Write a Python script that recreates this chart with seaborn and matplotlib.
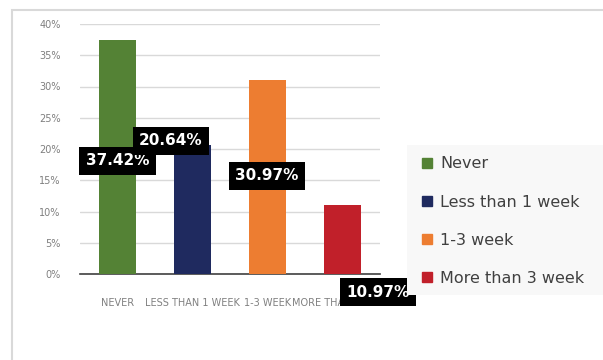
import matplotlib
matplotlib.use("Agg")
import matplotlib.pyplot as plt
import matplotlib.patches as mpatches
import seaborn as sns
import pandas as pd

# data
categories = ["Never", "Less than 1 week", "1-3 week", "More than 3 week"]
tick_labels = ["NEVER", "LESS THAN 1 WEEK", "1-3 WEEK", "MORE THAN 3 WEEK"]
percent = [37.42, 20.64, 30.97, 10.97]
colors = ["#548235", "#1f2a5f", "#ed7d31", "#c1202a"]
# where the (moved) data labels sit, in data units
label_x = [0.0, 0.71, 1.99, 3.47]
label_y = [18.1, 21.3, 15.7, -2.9]

df = pd.DataFrame({"cat": categories, "pct": percent})

sns.set_style("white")
fig = plt.figure(figsize=(6.03, 3.6), dpi=100)
ax = fig.add_axes([80 / 603, 1 - 274 / 360, 300 / 603, 250 / 360])

sns.barplot(data=df, x="cat", y="pct", hue="cat", palette=colors, saturation=1,
            width=0.5, legend=False, ax=ax, zorder=3, linewidth=0)

ax.set_ylim(0, 40)
ax.set_yticks(range(0, 41, 5))
ax.set_yticklabels([f"{t}%" for t in range(0, 41, 5)], fontsize=7, color="#7f7f7f")
ax.set_xlim(-0.5, 3.5)
ax.set_xticks([-0.5, 0.5, 1.5, 2.5, 3.5], minor=False)
ax.set_xticklabels([])
ax.set_xticks([0, 1, 2, 3], minor=True)
ax.set_xticklabels(tick_labels, minor=True, fontsize=7, color="#808080")
ax.tick_params(axis="x", which="major", length=4, color="#404040", width=1, direction="out")
ax.tick_params(axis="x", which="minor", length=0, pad=17)
ax.tick_params(axis="y", length=0, pad=14)
ax.set_xlabel("")
ax.set_ylabel("")
ax.grid(axis="y", color="#d9d9d9", linewidth=1, zorder=0)
for s in ["top", "right", "left"]:
    ax.spines[s].set_visible(False)
ax.spines["bottom"].set_color("#404040")
ax.spines["bottom"].set_linewidth(1.2)

# data labels: black boxes, white bold text
for x, y, v in zip(label_x, label_y, percent):
    ax.text(x, y, f"{v:.2f}%", ha="center", va="center", fontsize=11,
            fontweight="bold", color="white", zorder=5, clip_on=False,
            bbox=dict(boxstyle="square,pad=0.42", facecolor="black", edgecolor="none"))

# legend panel
fig.patches.append(mpatches.Rectangle((407 / 603, 1 - 295 / 360), 196 / 603, 150 / 360,
                                      transform=fig.transFigure, facecolor="#f8f8f8",
                                      edgecolor="none", zorder=0))
handles = [mpatches.Patch(color=c, label=l) for c, l in zip(colors, categories)]
leg = fig.legend(handles=handles, loc="upper left", bbox_to_anchor=(408 / 603, 1 - 142 / 360),
                 frameon=False, fontsize=11.5, handlelength=0.6, handleheight=0.6,
                 handletextpad=0.5, labelspacing=1.45)
for t in leg.get_texts():
    t.set_color("#404040")

# outer chart frame
fig.patches.append(mpatches.Rectangle((12 / 603, -0.1), 1.0, 1 - 10 / 360 + 0.1,
                                      transform=fig.transFigure, facecolor="none",
                                      edgecolor="#d9d9d9", linewidth=1.5, zorder=0))

fig.savefig("out.png", dpi=100)
